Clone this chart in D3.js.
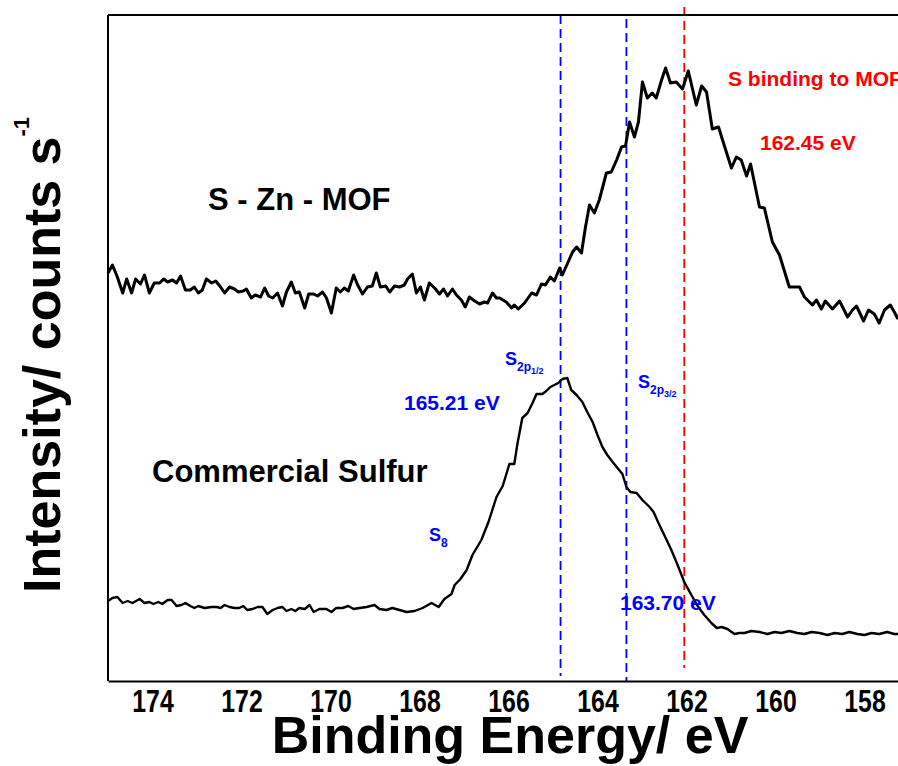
<!DOCTYPE html>
<html><head><meta charset="utf-8">
<script src="https://cdn.jsdelivr.net/npm/d3@7"></script>
<style>
body{margin:0;background:#fff}
svg{display:block}
text{font-family:Arial,"Liberation Sans",Helvetica,sans-serif;font-weight:bold}
</style>
</head><body>
<svg id="c" width="898" height="766"></svg>
<script>
// ---------- DATA ----------
const xTicks = [174,172,170,168,166,164,162,160,158];

const mofEnergy = [175.00,174.90,174.79,174.67,174.58,174.47,174.38,174.27,174.18,174.07,
173.96,173.84,173.75,173.66,173.55,173.46,173.37,173.26,173.15,173.06,
172.97,172.88,172.79,172.67,172.58,172.47,172.38,172.27,172.16,172.07,
171.96,171.89,171.78,171.69,171.57,171.48,171.39,171.30,171.19,171.08,
170.99,170.88,170.79,170.70,170.58,170.49,170.38,170.29,170.18,170.09,
169.98,169.87,169.78,169.69,169.60,169.48,169.39,169.28,169.17,169.06,
168.97,168.88,168.76,168.67,168.56,168.45,168.34,168.27,168.16,168.07,
167.98,167.89,167.78,167.66,167.55,167.46,167.37,167.26,167.17,167.06,
166.97,166.88,166.76,166.65,166.54,166.47,166.36,166.27,166.20,166.05,
165.93,165.87,165.78,165.64,165.48,165.37,165.26,165.17,165.06,164.97,
164.85,164.79,164.67,164.56,164.47,164.36,164.27,164.18,164.07,163.96,
163.80,163.69,163.57,163.46,163.37,163.28,163.17,163.08,162.99,162.88,
162.77,162.68,162.56,162.47,162.36,162.23,162.09,161.96,161.78,161.66,
161.55,161.42,161.28,161.19,160.99,160.88,160.77,160.65,160.56,160.36,
160.25,160.07,159.91,159.69,159.46,159.35,159.17,159.08,158.97,158.88,
158.72,158.56,158.38,158.27,158.18,158.02,157.91,157.78,157.67,157.55,
157.42,157.33,157.26,157.10];
const mofIntensity = [408,416,404,388,402,388,402,397,406,388,
398,398,402,399,401,398,405,391,391,394,
388,391,402,398,400,394,388,394,392,389,
390,392,383,386,384,393,385,383,388,375,
389,399,388,389,373,387,387,385,389,383,
368,393,389,393,390,406,396,387,394,395,
408,394,395,389,395,394,396,402,407,388,
394,381,398,393,387,392,385,392,386,381,
374,384,380,377,379,378,388,383,383,379,
373,376,372,378,388,386,397,396,404,400,
413,406,418,429,434,428,454,476,468,481,
508,509,521,534,535,559,544,559,599,583,
588,583,601,613,598,599,592,610,576,595,
589,552,554,541,513,524,521,505,517,474,
473,439,426,394,394,384,376,381,372,380,
372,380,364,371,375,360,371,367,358,371,
376,369,363,366];

const sulfurEnergy = [175.00,174.90,174.79,174.67,174.56,174.45,174.29,174.18,174.07,173.98,
173.87,173.78,173.66,173.57,173.46,173.35,173.26,173.15,173.06,172.97,
172.83,172.67,172.56,172.47,172.38,172.27,172.16,172.05,171.96,171.87,
171.75,171.64,171.53,171.42,171.30,171.19,171.08,170.99,170.88,170.79,
170.70,170.58,170.47,170.38,170.25,170.09,169.98,169.87,169.73,169.60,
169.48,169.35,169.19,169.01,168.90,168.74,168.61,168.45,168.29,168.11,
167.93,167.73,167.57,167.44,167.28,167.21,167.08,166.94,166.81,166.61,
166.45,166.27,166.13,165.98,165.87,165.80,165.69,165.57,165.46,165.37,
165.24,165.15,165.06,164.97,164.88,164.79,164.68,164.59,164.47,164.34,
164.23,164.11,164.00,163.89,163.78,163.66,163.55,163.44,163.35,163.26,
163.12,162.99,162.83,162.74,162.63,162.50,162.34,162.20,162.05,161.89,
161.75,161.60,161.44,161.32,161.21,161.08,160.92,160.81,160.70,160.54,
160.36,160.18,160.02,159.87,159.69,159.51,159.35,159.19,159.01,158.83,
158.67,158.50,158.34,158.16,158.00,157.84,157.67,157.49,157.33,157.10];
const sulfurIntensity = [80,83,84,78,80,78,82,78,79,77,
79,77,81,81,75,76,78,75,73,75,
73,74,74,73,76,74,73,73,75,71,
72,74,74,67,71,73,74,70,72,70,
73,72,76,69,72,72,69,73,73,75,
72,73,74,76,72,71,73,71,69,70,
73,78,74,82,87,96,102,111,126,141,
159,184,195,217,217,237,263,268,278,287,
287,290,294,296,298,302,303,291,286,279,
269,259,246,234,226,219,213,207,194,189,
188,181,174,169,158,146,131,116,99,86,
75,66,58,53,54,52,47,48,48,50,
49,47,49,48,50,48,47,49,48,46,
48,47,49,47,46,48,47,49,47,47];

// reference lines (binding energy positions as drawn)
const refLineEnergy = [164.83, 163.35, 162.05];
const refLineColor  = ["#0000ff", "#0000ff", "#ff0000"];
const refLineTop    = [666, 662, 674];   // intensity units
const refLineBottom = [5, 0, 13];

// ---------- CHART ----------
const svg = d3.select("#c");
const x = d3.scaleLinear().domain([175, 157]).range([108, 909]);
const y = d3.scaleLinear().domain([0, 666]).range([681, 15]);

// reference dashed lines
refLineEnergy.forEach((e, i) => {
  svg.append("line")
    .attr("x1", x(e)).attr("x2", x(e))
    .attr("y1", y(refLineTop[i])).attr("y2", y(refLineBottom[i]))
    .attr("stroke", refLineColor[i]).attr("stroke-width", 1.8)
    .attr("stroke-dasharray", "9,5");
});

// curves
const line = d3.line().x(d => x(d[0])).y(d => y(d[1]));
svg.append("path").datum(d3.zip(mofEnergy, mofIntensity))
  .attr("d", line).attr("fill", "none").attr("stroke", "#000")
  .attr("stroke-width", 3).attr("stroke-linejoin", "round");
svg.append("path").datum(d3.zip(sulfurEnergy, sulfurIntensity))
  .attr("d", line).attr("fill", "none").attr("stroke", "#000")
  .attr("stroke-width", 2.4).attr("stroke-linejoin", "round");

// frame
svg.append("line").attr("x1", x(175)).attr("x2", x(157))
  .attr("y1", y(666)).attr("y2", y(666)).attr("stroke", "#000").attr("stroke-width", 2);
svg.append("line").attr("x1", x(175)).attr("x2", x(175))
  .attr("y1", y(666)).attr("y2", y(0)).attr("stroke", "#000").attr("stroke-width", 2);

// x axis
const gx = svg.append("g").attr("transform", `translate(0,${y(0)})`)
  .call(d3.axisBottom(x).tickValues(xTicks).tickSize(0).tickSizeOuter(0).tickPadding(9).tickFormat(d3.format("d")));
gx.select(".domain").attr("stroke", "#000").attr("stroke-width", 2);
gx.selectAll("text").attr("font-size", 31).attr("font-family", "Arial, 'Liberation Sans', sans-serif")
  .attr("font-weight", "bold").attr("fill", "#000")
  .attr("transform", "scale(0.8,1)");

// axis titles
svg.append("text").attr("x", 510).attr("y", 753).attr("text-anchor", "middle")
  .attr("font-size", 52).text("Binding Energy/ eV");
const yt = svg.append("text").attr("transform", "translate(60,593) rotate(-90)")
  .attr("font-size", 52);
yt.append("tspan").text("Intensity/ counts s");
yt.append("tspan").attr("font-size", 22).attr("dy", -31).text("-1");

// series labels
svg.append("text").attr("x", 208).attr("y", 210).attr("font-size", 31).text("S - Zn - MOF");
svg.append("text").attr("x", 152).attr("y", 482).attr("font-size", 31).text("Commercial Sulfur");

// annotations
const red = "#ff0000", blue = "#0000ff";
svg.append("text").attr("x", 728).attr("y", 86).attr("font-size", 21).attr("fill", red).text("S binding to MOF");
svg.append("text").attr("x", 760).attr("y", 150).attr("font-size", 21).attr("fill", red).text("162.45 eV");
svg.append("text").attr("x", 404).attr("y", 410).attr("font-size", 21).attr("fill", blue).text("165.21 eV");
svg.append("text").attr("x", 620).attr("y", 610).attr("font-size", 21).attr("fill", blue).text("163.70 eV");

function subLabel(px, py, sub, subsub) {
  const t = svg.append("text").attr("x", px).attr("y", py).attr("fill", blue).attr("font-size", 18);
  t.append("tspan").text("S");
  t.append("tspan").attr("font-size", 12).attr("dy", 6).text(sub);
  if (subsub) t.append("tspan").attr("font-size", 9).attr("dy", 3).text(subsub);
}
subLabel(429, 541, "8", null);
subLabel(505, 365, "2p", "1/2");
subLabel(638, 388, "2p", "3/2");
</script>
</body></html>
